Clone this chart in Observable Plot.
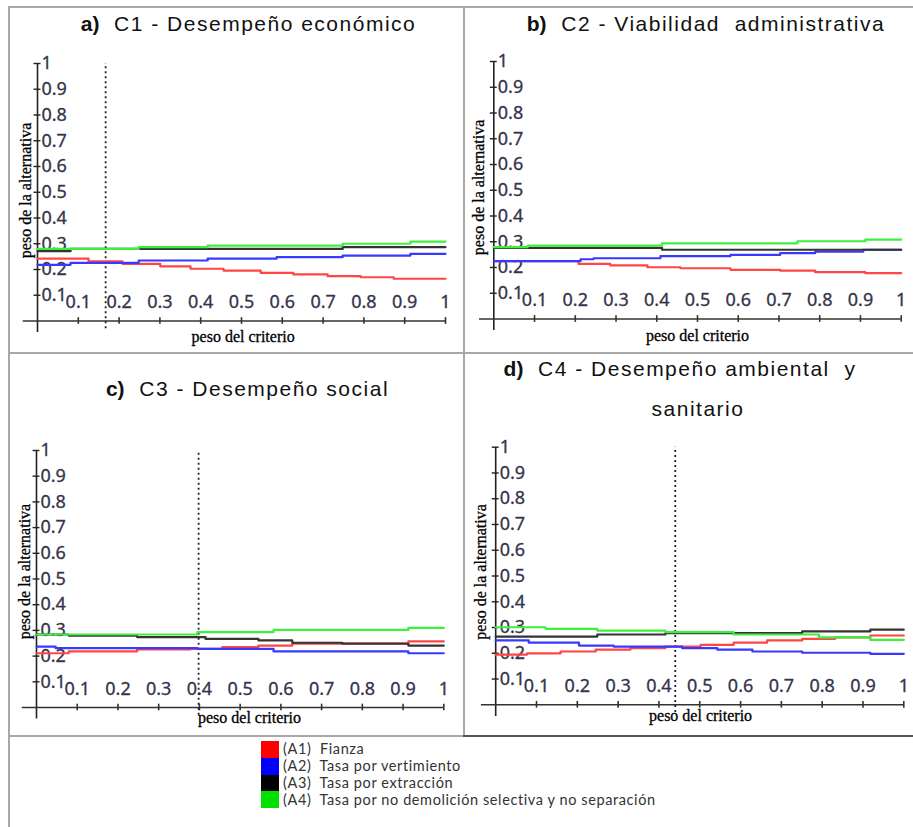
<!DOCTYPE html>
<html>
<head>
<meta charset="utf-8">
<script src="https://cdn.jsdelivr.net/npm/d3@7"></script>
<script src="https://cdn.jsdelivr.net/npm/@observablehq/plot@0.6"></script>
<style>
  html, body { margin: 0; padding: 0; background: #fff; }
  #page { position: relative; width: 913px; height: 827px; overflow: hidden; background: #fff; }
  .hl { position: absolute; height: 2px; background: #a8a8a8; z-index: 5; }
  .vl { position: absolute; width: 2px; background: #a8a8a8; z-index: 5; }
  .panel { position: absolute; }
  .title { position: absolute; font-family: "Liberation Sans", Arial, sans-serif; font-size: 21px; line-height: 24px;
           letter-spacing: 1.5px; color: #111; white-space: pre; transform: translateX(-50%); }
  .title b { letter-spacing: 0; }
  #legend { position: absolute; left: 261px; top: 741px; font-family: Lato, "Open Sans", sans-serif; font-size: 14.5px;
            letter-spacing: 0.6px; color: #333; }
  .lrow { display: flex; align-items: center; height: 16.8px; white-space: pre; }
  .lrow span { line-height: 14px; display: inline-block; }
  .sw { width: 18px; height: 16.8px; margin-right: 4px; }
</style>
</head>
<body>
<div id="page"></div>
<script>
// ---------- data ----------
const alternatives = ["(A1)  Fianza", "(A2)  Tasa por vertimiento", "(A3)  Tasa por extracción", "(A4)  Tasa por no demolición selectiva y no separación"];
const altColors = ["#ff4545", "#3838ff", "#333333", "#3ef03e"];
const legendColors = ["#ff0000", "#0000ff", "#000000", "#00e000"];
const xTicks = [0.1, 0.2, 0.3, 0.4, 0.5, 0.6, 0.7, 0.8, 0.9, 1];
const xTickLabels = ["0.1", "0.2", "0.3", "0.4", "0.5", "0.6", "0.7", "0.8", "0.9", "1"];
const yTicks = [0.1, 0.2, 0.3, 0.4, 0.5, 0.6, 0.7, 0.8, 0.9, 1];
const yTickLabels = ["0.1", "0.2", "0.3", "0.4", "0.5", "0.6", "0.7", "0.8", "0.9", "1"];
const panelTitles = ["C1 - Desempeño económico", "C2 - Viabilidad  administrativa", "C3 - Desempeño social", "C4 - Desempeño ambiental  y"];
const panelLetters = ["a)", "b)", "c)", "d)"];
const xTitle = "peso del criterio";
const yTitle = "peso de la alternativa";
const currentWeight = [0.167, null, 0.398, 0.44];

// C1 - step breakpoints (x) and weights (y)
const c1_A1_x = [0, 0.125, 0.208, 0.301, 0.375, 0.456, 0.547, 0.627, 0.711, 0.792, 0.873, 1];
const c1_A1_y = [0.242, 0.232, 0.222, 0.212, 0.203, 0.196, 0.187, 0.181, 0.174, 0.170, 0.164, 0.164];
const c1_A2_x = [0, 0.081, 0.248, 0.417, 0.586, 0.748, 0.914, 1];
const c1_A2_y = [0.218, 0.226, 0.235, 0.242, 0.248, 0.254, 0.261, 0.261];
const c1_A3_x = [0, 0.081, 0.748, 1];
const c1_A3_y = [0.271, 0.280, 0.287, 0.287];
const c1_A4_x = [0, 0.248, 0.417, 0.748, 0.914, 1];
const c1_A4_y = [0.280, 0.287, 0.293, 0.300, 0.308, 0.308];

// C2
const c2_A1_x = [0, 0.208, 0.286, 0.377, 0.458, 0.581, 0.703, 0.789, 0.912, 1];
const c2_A1_y = [0.225, 0.214, 0.208, 0.201, 0.197, 0.191, 0.188, 0.182, 0.178, 0.178];
const c2_A2_x = [0, 0.213, 0.245, 0.409, 0.581, 0.703, 0.789, 0.907, 1];
const c2_A2_y = [0.225, 0.232, 0.236, 0.244, 0.249, 0.256, 0.262, 0.269, 0.269];
const c2_A3_x = [0, 0.413, 1];
const c2_A3_y = [0.276, 0.269, 0.269];
const c2_A4_x = [0, 0.083, 0.413, 0.745, 0.912, 1];
const c2_A4_y = [0.279, 0.285, 0.294, 0.302, 0.308, 0.308];

// C3
const c3_A1_x = [0, 0.079, 0.247, 0.378, 0.456, 0.545, 0.628, 0.751, 0.913, 1];
const c3_A1_y = [0.211, 0.218, 0.226, 0.228, 0.235, 0.241, 0.248, 0.250, 0.257, 0.257];
const c3_A2_x = [0, 0.047, 0.395, 0.582, 0.913, 1];
const c3_A2_y = [0.237, 0.231, 0.228, 0.218, 0.211, 0.211];
const c3_A3_x = [0, 0.079, 0.247, 0.415, 0.545, 0.628, 0.751, 0.913, 1];
const c3_A3_y = [0.284, 0.280, 0.274, 0.267, 0.261, 0.252, 0.248, 0.241, 0.241];
const c3_A4_x = [0, 0.395, 0.582, 0.913, 1];
const c3_A4_y = [0.284, 0.293, 0.302, 0.310, 0.310];

// C4
const c4_A1_x = [0, 0.077, 0.159, 0.245, 0.330, 0.416, 0.502, 0.583, 0.665, 0.751, 0.832, 0.918, 1];
const c4_A1_y = [0.195, 0.200, 0.207, 0.214, 0.220, 0.226, 0.233, 0.241, 0.250, 0.256, 0.262, 0.269, 0.269];
const c4_A2_x = [0, 0.081, 0.204, 0.289, 0.457, 0.543, 0.629, 0.751, 0.918, 1];
const c4_A2_y = [0.250, 0.241, 0.230, 0.226, 0.220, 0.214, 0.207, 0.202, 0.198, 0.198];
const c4_A3_x = [0, 0.249, 0.416, 0.751, 0.918, 1];
const c4_A3_y = [0.265, 0.273, 0.278, 0.285, 0.292, 0.292];
const c4_A4_x = [0, 0.122, 0.249, 0.416, 0.583, 0.792, 0.918, 1];
const c4_A4_y = [0.301, 0.295, 0.288, 0.282, 0.273, 0.262, 0.252, 0.252];

const seriesX = [[c1_A1_x, c1_A2_x, c1_A3_x, c1_A4_x], [c2_A1_x, c2_A2_x, c2_A3_x, c2_A4_x],
                 [c3_A1_x, c3_A2_x, c3_A3_x, c3_A4_x], [c4_A1_x, c4_A2_x, c4_A3_x, c4_A4_x]];
const seriesY = [[c1_A1_y, c1_A2_y, c1_A3_y, c1_A4_y], [c2_A1_y, c2_A2_y, c2_A3_y, c2_A4_y],
                 [c3_A1_y, c3_A2_y, c3_A3_y, c3_A4_y], [c4_A1_y, c4_A2_y, c4_A3_y, c4_A4_y]];

// ---------- layout ----------
const panels = [
  {left: 0,   top: 0,   w: 460, h: 350, ml: 37,   mr: 15,   mt: 63,    mb: 29.5, ytOff: -11.5, ytY: 0.507, xtX: 0.504, xtDy: 20.5},
  {left: 460, top: 0,   w: 453, h: 350, ml: 33.3, mr: 12.3, mt: 61,    mb: 31.5, ytOff: -15,   ytY: 0.511, xtX: 0.50,  xtDy: 21.5},
  {left: 0,   top: 350, w: 460, h: 385, ml: 36,   mr: 16.7, mt: 100,   mb: 28,   ytOff: -12,   ytY: 0.529, xtX: 0.523, xtDy: 15.7},
  {left: 460, top: 350, w: 453, h: 385, ml: 35.2, mr: 9.7,  mt: 96.7,  mb: 30.7, ytOff: -15,   ytY: 0.516, xtX: 0.502, xtDy: 16.4}
];
const titlePos = [
  {cx: 248.5, base: 31.7}, {cx: 706, base: 31}, {cx: 247.5, base: 396.7}, {cx: 680, base: 376.7}
];

const page = document.getElementById("page");
const tickFont = '"Noto Sans", "Open Sans", sans-serif';
const serif = '"Liberation Serif", "DejaVu Serif", serif';

panels.forEach((p, i) => {
  const marks = [];
  const rows = [];
  seriesX[i].forEach((xs, s) => xs.forEach((x, k) => rows.push({alt: alternatives[s], s, x, y: seriesY[i][s][k]})));
  // axes
  marks.push(Plot.ruleX([0], {y1: -0.045, y2: 1, stroke: "#222", strokeWidth: 1.6}));
  marks.push(Plot.ruleY([0], {x1: -0.035, x2: 1, stroke: "#333", strokeWidth: 1.6}));
  marks.push(Plot.ruleY(yTicks, {x1: -0.0085, x2: 0.0085, stroke: "#222", strokeWidth: 1.4}));
  marks.push(Plot.ruleX(xTicks, {y1: -0.013, y2: 0.013, stroke: "#333", strokeWidth: 1.6}));
  // tick labels
  marks.push(Plot.text(yTicks, {x: 0, y: d => d, text: (d, k) => yTickLabels[k], textAnchor: "start", dx: 4,
    fontFamily: tickFont, fontSize: 18, letterSpacing: "-1.2px", fill: "#34344a", stroke: "#34344a", strokeWidth: 0.3}));
  marks.push(Plot.text(xTicks, {x: d => d, y: 0, text: (d, k) => xTickLabels[k], textAnchor: "middle", dy: -18.5,
    fontFamily: tickFont, fontSize: 18, letterSpacing: "-1.2px", fill: "#34344a", stroke: "#34344a", strokeWidth: 0.3}));
  // axis titles
  marks.push(Plot.text([xTitle], {x: p.xtX, y: 0, dy: p.xtDy, text: d => d, lineAnchor: "bottom",
    fontFamily: serif, fontSize: 16, letterSpacing: "-0.4px", fill: "#000", stroke: "#000", strokeWidth: 0.3}));
  marks.push(Plot.text([yTitle], {x: 0, y: p.ytY, dx: p.ytOff, text: d => d, rotate: -90,
    fontFamily: serif, fontSize: 16, letterSpacing: "-0.3px", fill: "#000", stroke: "#000", strokeWidth: 0.3}));
  // current weight marker
  if (currentWeight[i] != null) {
    marks.push(Plot.ruleX([currentWeight[i]], {y1: -0.03, y2: 1, stroke: "#222", strokeWidth: 1.8, strokeDasharray: "2,3"}));
  }
  // step lines
  marks.push(Plot.line(rows, {x: "x", y: "y", z: "alt", stroke: d => altColors[d.s], curve: "step-after", strokeWidth: 2.2}));

  const plot = Plot.plot({
    width: p.w, height: p.h,
    marginLeft: p.ml, marginRight: p.mr, marginTop: p.mt, marginBottom: p.mb,
    x: {domain: [0, 1], axis: null},
    y: {domain: [0, 1], axis: null},
    style: {background: "transparent", overflow: "visible"},
    marks
  });
  const div = document.createElement("div");
  div.className = "panel";
  div.style.left = p.left + "px";
  div.style.top = p.top + "px";
  div.appendChild(plot);
  page.appendChild(div);

  const t = document.createElement("div");
  t.className = "title";
  t.style.left = titlePos[i].cx + "px";
  t.style.top = (titlePos[i].base - 19.3) + "px";
  t.innerHTML = "<b>" + panelLetters[i] + "</b>  " + panelTitles[i];
  page.appendChild(t);
});
// second title line of panel d
const t2 = document.createElement("div");
t2.className = "title";
t2.style.left = "698px";
t2.style.top = (416.7 - 19.3) + "px";
t2.textContent = "sanitario";
page.appendChild(t2);

// borders
function line(cls, l, t, w, h, color) {
  const d = document.createElement("div");
  d.className = cls;
  d.style.left = l + "px"; d.style.top = t + "px";
  if (w != null) d.style.width = w + "px";
  if (h != null) d.style.height = h + "px";
  if (color) d.style.background = color;
  page.appendChild(d);
}
line("hl", 8, 6, 905, null);
line("vl", 7.5, 6, null, 821);
line("vl", 462.5, 6, null, 730);
line("hl", 8, 351.5, 905, null);
line("hl", 8, 735, 455, null);
line("hl", 463, 735, 450, null, "#555");

// legend
const leg = document.createElement("div");
leg.id = "legend";
alternatives.forEach((a, s) => {
  const r = document.createElement("div");
  r.className = "lrow";
  const sw = document.createElement("div");
  sw.className = "sw";
  sw.style.background = legendColors[s];
  const tx = document.createElement("span");
  tx.textContent = a;
  r.appendChild(sw); r.appendChild(tx);
  leg.appendChild(r);
});
page.appendChild(leg);
</script>
</body>
</html>
